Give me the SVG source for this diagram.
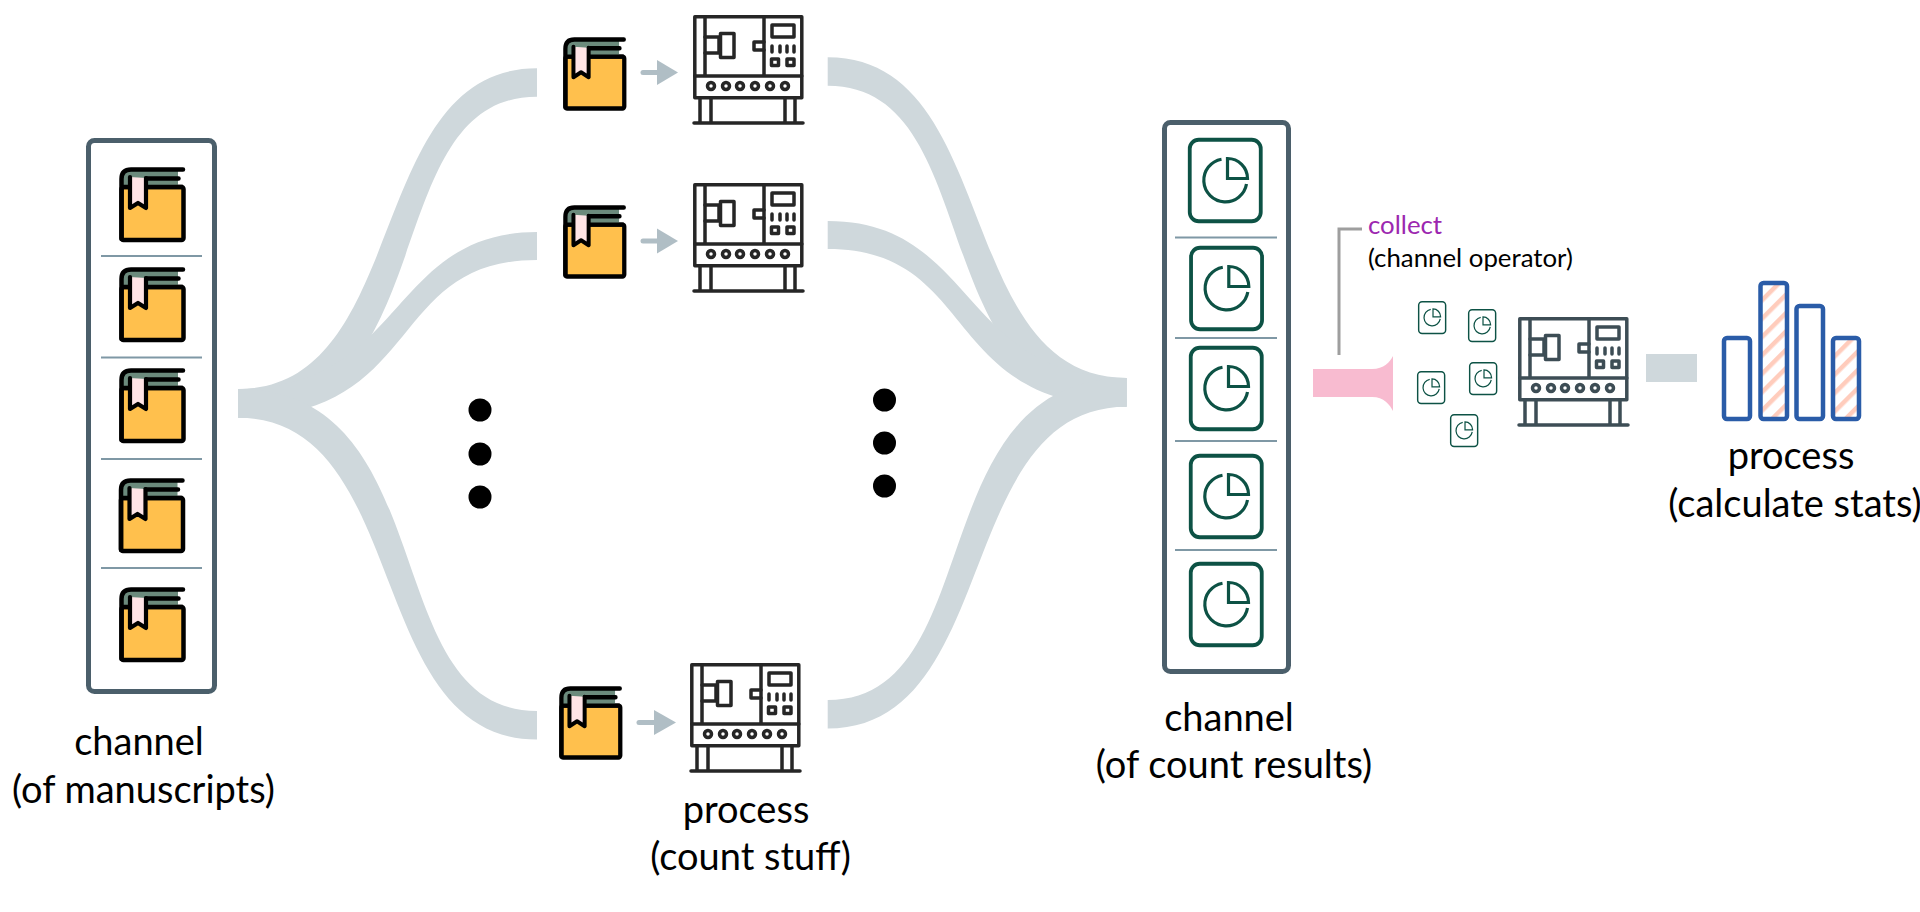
<svg xmlns="http://www.w3.org/2000/svg" width="1920" height="912" viewBox="0 0 1920 912">
<style>
text{font-family:Lato,"Open Sans","Liberation Sans",sans-serif;fill:#000}
.lbl{font-size:38px;text-anchor:middle}
.sm{font-size:25.800px}
.box{fill:#fff;stroke:#4b5f6b;stroke-width:5}
.div{stroke:#7f98a5;stroke-width:2;fill:none}
.flow{fill:#cfd8dc}
.arrowline{stroke:#b0bec5;stroke-width:5;stroke-linecap:round;fill:none}
.arrowhead{fill:#b0bec5}
.dot{fill:#000}
.bar{stroke:#2a5ca8;stroke-width:4.500}
.m{fill:none;stroke:currentColor;stroke-width:3.500;stroke-linejoin:round;stroke-linecap:round}
.card{fill:#fff;stroke:#0d5245;stroke-width:3.800}
.pie{fill:none;stroke:#0d5245;stroke-width:3.200}
</style>
<defs>
<pattern id="hatch" width="13" height="13" patternUnits="userSpaceOnUse" patternTransform="rotate(45)">
<rect width="13" height="13" fill="#fff"/><rect width="4.500" height="13" fill="#ffccbc"/>
</pattern>
<symbol id="book" viewBox="0 0 67 76" width="67" height="76" overflow="visible">
<rect x="2.500" y="20" width="62" height="53" rx="2" fill="#ffc04d" stroke="#000" stroke-width="4.500"/>
<path d="M3 20V12Q3 3 12 3H59V20Z" fill="#6b8a7c"/>
<path d="M64 2.500H12Q2.500 2.500 2.500 12V72M59.500 11.500H27" fill="none" stroke="#000" stroke-width="4.500" stroke-linecap="round"/>
<path d="M3 20H64" stroke="#000" stroke-width="4.500" fill="none"/>
<path d="M11 10V41L19 36L27 41V11" fill="#ffe4e6" stroke="#000" stroke-width="4.200" stroke-linejoin="round" stroke-linecap="round"/>
</symbol>
<symbol id="machine" viewBox="0 0 112 112" width="112" height="112" overflow="visible">
<g class="m">
<rect x="1.800" y="1.800" width="107" height="81"/>
<path d="M1.800 61H108.800M12 2V61M71 2V61"/>
<path d="M12 22H26V38H12"/>
<rect x="27.500" y="18.500" width="13.500" height="24"/>
<path d="M71 27H61V35H71"/>
<rect x="79" y="10" width="22" height="12"/>
<path d="M79 31V37M87 31V37M94 31V37M101 31V37"/>
<rect x="78.500" y="44" width="7" height="6.500"/><rect x="94" y="44" width="7" height="6.500"/>
<circle cx="18" cy="71" r="3.500"/><circle cx="33" cy="71" r="3.500"/><circle cx="47" cy="71" r="3.500"/><circle cx="62" cy="71" r="3.500"/><circle cx="77" cy="71" r="3.500"/><circle cx="92" cy="71" r="3.500"/>
<path d="M7 83V108M18 83V108M92 83V108M102 83V108M1 108H110"/>
</g>
</symbol>
<symbol id="card" viewBox="0 0 75 85" width="75" height="85" overflow="visible">
<rect x="1.750" y="1.750" width="71" height="81.500" rx="9" class="card"/>
<path d="M33.500 21.200A21.500 21.500 0 1 0 58.500 46" class="pie"/>
<path d="M39.500 20.500A20 20 0 0 1 59.500 40.500H39.500Z" class="pie"/>
</symbol>
</defs>

<g id="connectors">
<path class="flow" d="M238 389C412 389 363 68.300 537 68.300V96.700C375 96.700 446 417.700 238 417.700Z"/>
<path class="flow" d="M238 389C405 389 388 232 537 232V260C385 260 425 417.700 238 417.700Z"/>
<path class="flow" d="M238 417.700C412 417.700 363 739.500 537 739.500V711C375 711 446 389 238 389Z"/>
<path class="flow" d="M1126.700 378C952.700 378 1001.700 57.300 827.700 57.300V85.700C989.700 85.700 918.700 406.700 1126.700 406.700Z"/>
<path class="flow" d="M1126.700 378C959.700 378 976.700 221 827.700 221V249C979.700 249 939.700 406.700 1126.700 406.700Z"/>
<path class="flow" d="M1126.700 406.700C952.700 406.700 1001.700 728.500 827.700 728.500V700C989.700 700 918.700 378 1126.700 378Z"/>
<path d="M1313 369H1372C1384 369 1390 362 1393 356V411C1390 405 1384 397 1372 397H1313Z" fill="#f8bbd0"/>
<path d="M1339 355V229H1362" fill="none" stroke="#9e9e9e" stroke-width="3"/>
<rect x="1646" y="354" width="51" height="28" fill="#cfd8dc"/>
<g id="arrow-1"><path class="arrowline" d="M643 72.500H658"/><path class="arrowhead" d="M657 60L678 72.500L657 85Z"/></g>
<g id="arrow-2"><path class="arrowline" d="M643 241H658"/><path class="arrowhead" d="M657 228.500L678 241L657 253.500Z"/></g>
<g id="arrow-3"><path class="arrowline" d="M639 722.500H654"/><path class="arrowhead" d="M654 710L676 722.500L654 735Z"/></g>
</g>

<g id="channel-manuscripts">
<rect class="box" x="88.500" y="140.500" width="126" height="551" rx="6"/>
<path class="div" d="M101 256H202M101 357.500H202M101 459H202M101 568H202"/>
<use href="#book" x="119" y="167"/>
<use href="#book" x="119" y="267"/>
<use href="#book" x="119" y="368"/>
<use href="#book" x="118.500" y="478"/>
<use href="#book" x="119" y="587"/>
<text class="lbl" x="139" y="755">channel</text>
<text class="lbl" x="143.500" y="803">(of manuscripts)</text>
</g>

<g id="process-1"><use href="#book" transform="translate(563 37) scale(.95 .98)"/><use href="#machine" x="693" y="15" color="#262626"/></g>
<g id="process-2"><use href="#book" transform="translate(563 205) scale(.95 .98)"/><use href="#machine" x="693" y="183" color="#262626"/></g>
<g id="process-3"><use href="#book" transform="translate(559 686) scale(.95 .98)"/><use href="#machine" x="690" y="663" color="#262626"/>
<text class="lbl" x="746" y="823">process</text>
<text class="lbl" x="750.500" y="870">(count stuff)</text>
</g>

<g id="ellipsis-left"><circle class="dot" cx="480" cy="410" r="11.500"/><circle class="dot" cx="480" cy="454" r="11.500"/><circle class="dot" cx="480" cy="497" r="11.500"/></g>
<g id="ellipsis-right"><circle class="dot" cx="884.500" cy="400" r="11.500"/><circle class="dot" cx="884.500" cy="443" r="11.500"/><circle class="dot" cx="884.500" cy="486" r="11.500"/></g>

<g id="channel-results">
<rect class="box" x="1164.500" y="122.500" width="124" height="549" rx="6"/>
<path class="div" d="M1175 237.500H1277M1175 338H1277M1175 441H1277M1175 550H1277"/>
<use href="#card" x="1188" y="138"/>
<use href="#card" x="1189.300" y="246"/>
<use href="#card" x="1189" y="346"/>
<use href="#card" x="1189" y="454"/>
<use href="#card" x="1189" y="562"/>
<text class="lbl" x="1229" y="731">channel</text>
<text class="lbl" x="1234" y="778">(of count results)</text>
</g>

<g id="collect-label">
<text class="sm" x="1368" y="234" style="fill:#9c27b0">collect</text>
<text class="sm" x="1368" y="267">(channel operator)</text>
</g>

<g id="collect-process">
<use href="#card" transform="translate(1418 301) scale(.38 .39)"/>
<use href="#card" transform="translate(1468 309) scale(.38 .39)"/>
<use href="#card" transform="translate(1417 371) scale(.38 .39)"/>
<use href="#card" transform="translate(1469 362) scale(.38 .39)"/>
<use href="#card" transform="translate(1450 414) scale(.38 .39)"/>
<use href="#machine" x="1518" y="317" color="#3d4d55"/>
</g>

<g id="calculate-stats">
<rect class="bar" x="1724" y="338" width="26" height="81" rx="3" fill="#fff"/>
<rect class="bar" x="1760.500" y="283" width="26.500" height="136" rx="3" fill="url(#hatch)"/>
<rect class="bar" x="1796.500" y="306" width="26.500" height="113" rx="3" fill="#fff"/>
<rect class="bar" x="1833" y="338" width="26" height="81" rx="3" fill="url(#hatch)"/>
<text class="lbl" x="1791" y="469">process</text>
<text class="lbl" x="1795" y="517">(calculate stats)</text>
</g>
</svg>
